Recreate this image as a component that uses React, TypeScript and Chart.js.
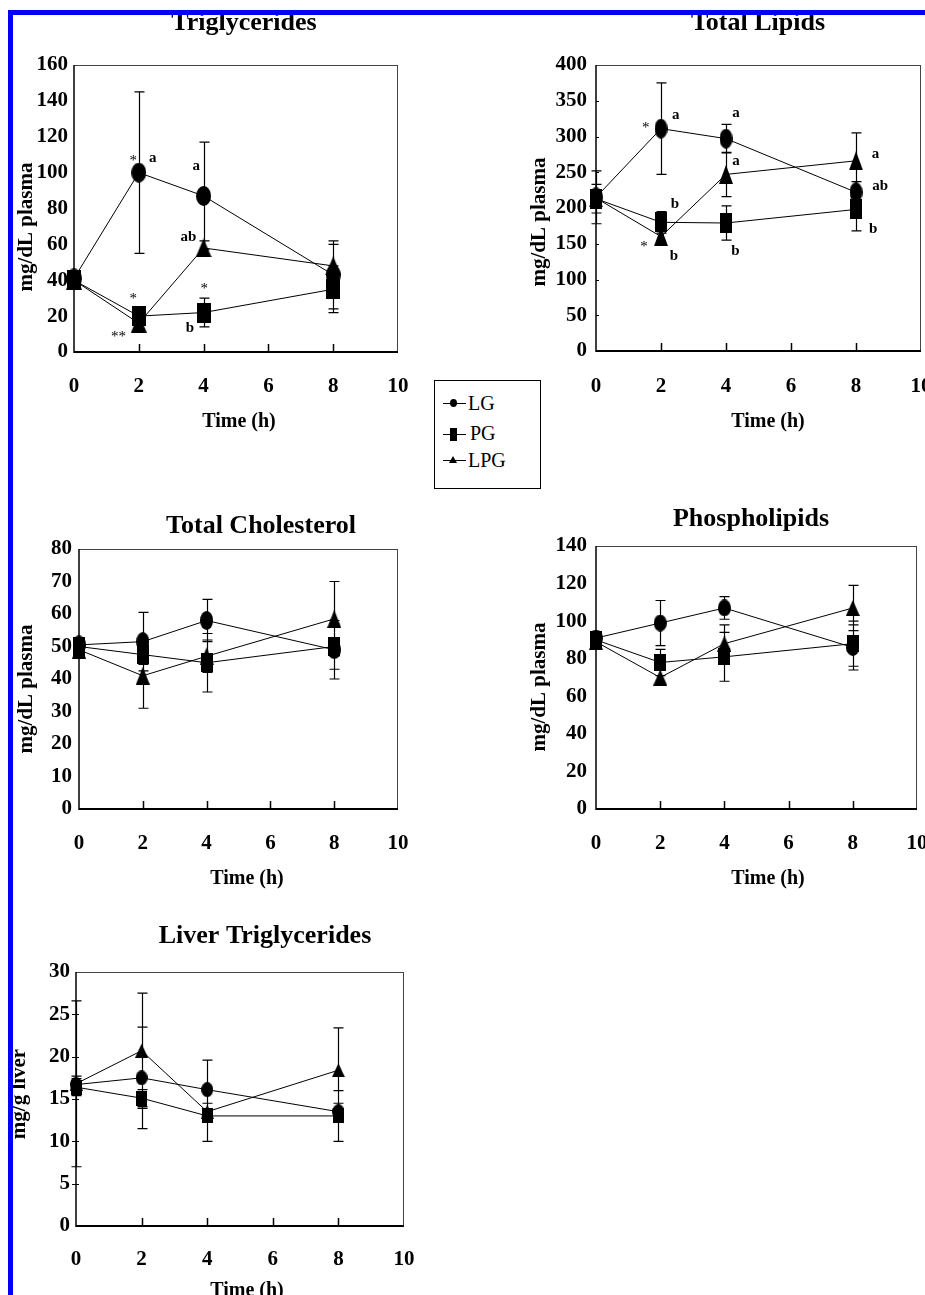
import React, { useEffect, useRef } from 'react';
import { Chart, registerables } from 'chart.js';

Chart.register(...registerables);

const FONT = '"Liberation Serif", "Times New Roman", Times, serif';

// ---------------- data ----------------
const times = [0, 2, 4, 8];
const seriesNames = ['LG', 'PG', 'LPG'];
const xMax = 10;
const xStep = 2;
const xTitleText = 'Time (h)';

// Triglycerides (mg/dL plasma)
const tgLG = [41, 100, 87, 43];
const tgPG = [40, 20, 22, 35];
const tgLPG = [40, 16, 58, 48];
const tgLGErr = [3, 45, 30, 19];
const tgPGErr = [2, 3, 8, 13];
const tgLPGErr = [2, 3, 4, 12];
const tgMarks = [
  { text: '*', t: 1.83, v: 108.9 },
  { text: 'a', t: 2.43, v: 108 },
  { text: 'a', t: 3.77, v: 103.9 },
  { text: 'ab', t: 3.53, v: 64.3 },
  { text: '*', t: 1.83, v: 31.8 },
  { text: '**', t: 1.37, v: 10.4 },
  { text: '*', t: 4.02, v: 37.4 },
  { text: 'b', t: 3.58, v: 13.2 },
];

// Total Lipids (mg/dL plasma)
const tlLG = [215, 311, 297, 222];
const tlPG = [213, 180, 179, 198];
const tlLPG = [214, 160, 247, 266];
const tlLGErr = [37, 64, 20, 15];
const tlPGErr = [20, 15, 24, 30];
const tlLPGErr = [10, 12, 31, 39];
const tlMarks = [
  { text: '*', t: 1.53, v: 317 },
  { text: 'a', t: 2.45, v: 330 },
  { text: 'a', t: 4.31, v: 332 },
  { text: 'a', t: 4.31, v: 266 },
  { text: 'a', t: 8.6, v: 275.5 },
  { text: 'ab', t: 8.74, v: 231 },
  { text: 'b', t: 2.43, v: 205 },
  { text: '*', t: 1.48, v: 151.5 },
  { text: 'b', t: 2.4, v: 132 },
  { text: 'b', t: 4.29, v: 140 },
  { text: 'b', t: 8.53, v: 170.6 },
];

// Total Cholesterol (mg/dL plasma)
const tcLG = [50.5, 51.5, 58, 49];
const tcPG = [50, 47.5, 45, 50];
const tcLPG = [49, 41, 47, 58.5];
const tcLGErr = [2, 9, 6.5, 9];
const tcPGErr = [2, 3, 9, 7];
const tcLPGErr = [2, 10, 5, 11.5];

// Phospholipids (mg/dL plasma)
const plLG = [91, 99, 107, 86];
const plPG = [90, 78, 81, 88];
const plLPG = [89, 70, 88, 107];
const plLGErr = [3, 12, 6, 12];
const plPGErr = [3, 7, 13, 12];
const plLPGErr = [3, 4, 10, 12];

// Liver Triglycerides (mg/g liver)
const ltLG = [16.7, 17.5, 16.1, 13.5];
const ltPG = [16.4, 15.1, 13, 13];
const ltLPG = [16.8, 20.7, 13.5, 18.4];
const ltLGErr = [1, 6, 3.5, 1];
const ltPGErr = [1, 1, 3, 3];
const ltLPGErr = [9.8, 6.8, 1, 5];

type Mark = { text: string; t: number; v: number };
type Panel = {
  id: string;
  title: string;
  yTitle: string;
  yMax: number;
  yStep: number;
  values: number[][];
  errors: number[][];
  marks: Mark[];
};

const panels: Panel[] = [
  { id: 'tg', title: 'Triglycerides', yTitle: 'mg/dL plasma', yMax: 160, yStep: 20, values: [tgLG, tgPG, tgLPG], errors: [tgLGErr, tgPGErr, tgLPGErr], marks: tgMarks },
  { id: 'tl', title: 'Total Lipids', yTitle: 'mg/dL plasma', yMax: 400, yStep: 50, values: [tlLG, tlPG, tlLPG], errors: [tlLGErr, tlPGErr, tlLPGErr], marks: tlMarks },
  { id: 'tc', title: 'Total Cholesterol', yTitle: 'mg/dL plasma', yMax: 80, yStep: 10, values: [tcLG, tcPG, tcLPG], errors: [tcLGErr, tcPGErr, tcLPGErr], marks: [] },
  { id: 'pl', title: 'Phospholipids', yTitle: 'mg/dL plasma', yMax: 140, yStep: 20, values: [plLG, plPG, plLPG], errors: [plLGErr, plPGErr, plLPGErr], marks: [] },
  { id: 'lt', title: 'Liver Triglycerides', yTitle: 'mg/g liver', yMax: 30, yStep: 5, values: [ltLG, ltPG, ltLPG], errors: [ltLGErr, ltPGErr, ltLPGErr], marks: [] },
];

// ---------------- layout (page pixels) ----------------
type Lay = {
  box: number[]; // canvas left, top, width, height
  plot: number[]; // plot left, top, right, bottom
  yPad: number;
  xPad: number;
  title: number[]; // center x, baseline y
  yTitle: number[]; // center x, center y
  xTitle: number[]; // center x, center y
  marker: number[]; // w, h
  yTickIn: number;
  yTickOut: number;
};

const RIGHT_ROOM = 40;

const layouts: Record<string, Lay> = {
  tg: { box: [0, 0, 398 + RIGHT_ROOM, 440], plot: [74, 65, 398, 352], yPad: 6, xPad: 22, title: [244, 30], yTitle: [27, 227], xTitle: [239, 422], marker: [15, 20], yTickIn: 0, yTickOut: 0 },
  tl: { box: [500, 0, 921 + RIGHT_ROOM - 500, 440], plot: [596, 65, 921, 351], yPad: 9, xPad: 23, title: [758, 30], yTitle: [540, 222], xTitle: [768, 422], marker: [13, 20], yTickIn: 3, yTickOut: 0 },
  tc: { box: [0, 490, 398 + RIGHT_ROOM, 410], plot: [79, 549, 398, 809], yPad: 7, xPad: 22, title: [261, 533], yTitle: [27, 689], xTitle: [247, 879], marker: [13, 19], yTickIn: 0, yTickOut: 0 },
  pl: { box: [500, 490, 917 + RIGHT_ROOM - 500, 410], plot: [596, 546, 917, 809], yPad: 9, xPad: 22, title: [751, 526], yTitle: [540, 687], xTitle: [768, 879], marker: [13, 17], yTickIn: 0, yTickOut: 0 },
  lt: { box: [0, 905, 404 + RIGHT_ROOM, 405], plot: [76, 972, 404, 1226], yPad: 6, xPad: 21, title: [265, 943], yTitle: [20, 1094], xTitle: [247, 1291], marker: [12, 15], yTickIn: 3, yTickOut: 4 },
};

function makeMarker(shape: string, w: number, h: number) {
  const c = document.createElement('canvas');
  c.width = w;
  c.height = h;
  const g = c.getContext('2d')!;
  g.fillStyle = '#000';
  g.beginPath();
  if (shape === 'circle') {
    g.ellipse(w / 2, h / 2, w / 2, h / 2, 0, 0, Math.PI * 2);
  } else if (shape === 'rect') {
    g.rect(0, 0, w, h);
  } else {
    g.moveTo(w / 2, 0);
    g.lineTo(w, h);
    g.lineTo(0, h);
    g.closePath();
  }
  g.fill();
  return c;
}

function ChartPanel({ panel, lay }: { panel: Panel; lay: Lay }) {
  const ref = useRef<HTMLCanvasElement>(null);
  const [L, T, W, H] = lay.box;

  useEffect(() => {
    const canvas = ref.current!;
    const [pl, pt, pr, pb] = lay.plot;
    const [mw, mh] = lay.marker;
    const styles = [
      makeMarker('circle', mw, mh),
      makeMarker('rect', mw - 1, mh),
      makeMarker('triangle', mw + 1, mh - 1),
    ];
    const datasets = seriesNames.map((name, si) => ({
      label: name,
      data: times.map((t, i) => ({ x: t, y: panel.values[si][i] })),
      borderColor: '#000',
      backgroundColor: '#000',
      borderWidth: 1,
      pointStyle: styles[si],
      pointRadius: 8,
      tension: 0,
      clip: false as const,
    }));
    const tickFont = { family: FONT, size: 21, weight: 'bold' as const };

    const decor = {
      id: 'decor_' + panel.id,
      beforeDatasetsDraw(chart: any) {
        const { ctx, chartArea: a, scales } = chart;
        const xs = scales.x;
        const ys = scales.y;
        ctx.save();
        // frame
        ctx.strokeStyle = '#444';
        ctx.lineWidth = 1;
        ctx.beginPath();
        ctx.moveTo(a.left, a.top + 0.5);
        ctx.lineTo(a.right, a.top + 0.5);
        ctx.moveTo(a.right - 0.5, a.top);
        ctx.lineTo(a.right - 0.5, a.bottom);
        ctx.stroke();
        ctx.strokeStyle = '#000';
        ctx.lineWidth = 1.5;
        ctx.beginPath();
        ctx.moveTo(a.left, a.top);
        ctx.lineTo(a.left, a.bottom + 1);
        ctx.stroke();
        ctx.lineWidth = 2;
        ctx.beginPath();
        ctx.moveTo(a.left, a.bottom);
        ctx.lineTo(a.right, a.bottom);
        ctx.stroke();
        // inward x ticks
        ctx.lineWidth = 1.5;
        ctx.beginPath();
        xs.ticks.forEach((tk: any) => {
          if (tk.value <= xs.min || tk.value >= xs.max) return;
          const px = Math.round(xs.getPixelForValue(tk.value)) + 0.5;
          ctx.moveTo(px, a.bottom);
          ctx.lineTo(px, a.bottom - 8);
        });
        ctx.stroke();
        // y ticks
        if (lay.yTickIn || lay.yTickOut) {
          ctx.lineWidth = 1;
          ctx.beginPath();
          ys.ticks.forEach((tk: any) => {
            if (tk.value <= ys.min || tk.value >= ys.max) return;
            const py = Math.round(ys.getPixelForValue(tk.value)) + 0.5;
            ctx.moveTo(a.left - lay.yTickOut, py);
            ctx.lineTo(a.left + lay.yTickIn, py);
          });
          ctx.stroke();
        }
        // error bars
        ctx.lineWidth = 1.2;
        ctx.beginPath();
        panel.values.forEach((vals, si) => {
          vals.forEach((v, i) => {
            const e = panel.errors[si][i];
            if (!e) return;
            const px = Math.round(xs.getPixelForValue(times[i])) + 0.5;
            const top = ys.getPixelForValue(v + e);
            const bot = ys.getPixelForValue(v - e);
            ctx.moveTo(px, top);
            ctx.lineTo(px, bot);
            ctx.moveTo(px - 5, top);
            ctx.lineTo(px + 5, top);
            ctx.moveTo(px - 5, bot);
            ctx.lineTo(px + 5, bot);
          });
        });
        ctx.stroke();
        ctx.restore();
      },
      afterDraw(chart: any) {
        const { ctx, scales } = chart;
        const xs = scales.x;
        const ys = scales.y;
        ctx.save();
        ctx.fillStyle = '#000';
        ctx.textAlign = 'center';
        // panel title
        ctx.font = `bold 26px ${FONT}`;
        ctx.textBaseline = 'alphabetic';
        ctx.fillText(panel.title, lay.title[0] - L, lay.title[1] - T);
        // x title
        ctx.font = `bold 20px ${FONT}`;
        ctx.textBaseline = 'middle';
        ctx.fillText(xTitleText, lay.xTitle[0] - L, lay.xTitle[1] - T);
        // y title
        ctx.save();
        ctx.translate(lay.yTitle[0] - L, lay.yTitle[1] - T);
        ctx.rotate(-Math.PI / 2);
        ctx.font = `bold 21px ${FONT}`;
        ctx.fillText(panel.yTitle, 0, 0);
        ctx.restore();
        // significance marks
        panel.marks.forEach((m) => {
          const star = m.text.indexOf('*') >= 0;
          ctx.font = star ? `15px ${FONT}` : `bold 15px ${FONT}`;
          ctx.fillText(m.text, xs.getPixelForValue(m.t), ys.getPixelForValue(m.v) + (star ? 4 : 0));
        });
        ctx.restore();
      },
    };

    const chart = new Chart(canvas, {
      type: 'line',
      data: { datasets },
      options: {
        animation: false,
        responsive: false,
        devicePixelRatio: 1,
        events: [],
        layout: { padding: { left: 0, top: pt - T, right: L + W - pr, bottom: 0 } },
        plugins: {
          legend: { display: false },
          tooltip: { enabled: false },
          title: { display: false },
        },
        scales: {
          x: {
            type: 'linear',
            min: 0,
            max: xMax,
            ticks: { stepSize: xStep, color: '#000', font: tickFont, padding: lay.xPad, maxRotation: 0, autoSkip: false },
            grid: { display: false, drawTicks: false },
            border: { display: false },
            afterFit: (s: any) => {
              s.height = T + H - pb;
            },
          },
          y: {
            type: 'linear',
            min: 0,
            max: panel.yMax,
            ticks: { stepSize: panel.yStep, color: '#000', font: tickFont, padding: lay.yPad },
            grid: { display: false, drawTicks: false },
            border: { display: false },
            afterFit: (s: any) => {
              s.width = pl - L;
            },
          },
        },
      } as any,
      plugins: [decor],
    });
    return () => chart.destroy();
  }, []);

  return <canvas ref={ref} width={W} height={H} style={{ position: 'absolute', left: L, top: T, width: W, height: H }} />;
}

function Legend() {
  const txt: React.CSSProperties = { position: 'absolute', left: 33, fontSize: 20, lineHeight: '20px', whiteSpace: 'nowrap' };
  const line = (top: number): React.CSSProperties => ({ position: 'absolute', left: 8, top, width: 23, height: 1, background: '#000' });
  return (
    <div
      style={{
        position: 'absolute',
        left: 434,
        top: 380,
        width: 107,
        height: 109,
        boxSizing: 'border-box',
        border: '1px solid #000',
        background: '#fff',
        fontFamily: FONT,
        color: '#000',
        zIndex: 2,
      }}
    >
      <div style={line(22)} />
      <div style={{ position: 'absolute', left: 15, top: 18, width: 7, height: 8, borderRadius: '50%', background: '#000' }} />
      <span style={{ ...txt, top: 12 }}>LG</span>
      <div style={line(53)} />
      <div style={{ position: 'absolute', left: 15, top: 47, width: 7, height: 13, background: '#000' }} />
      <span style={{ ...txt, left: 35, top: 42 }}>PG</span>
      <div style={line(79)} />
      <div
        style={{
          position: 'absolute',
          left: 14,
          top: 75,
          width: 0,
          height: 0,
          borderLeft: '4.5px solid transparent',
          borderRight: '4.5px solid transparent',
          borderBottom: '7px solid #000',
        }}
      />
      <span style={{ ...txt, top: 69 }}>LPG</span>
    </div>
  );
}

export default function App() {
  return (
    <div style={{ position: 'absolute', left: 0, top: 0, width: 925, height: 1295, overflow: 'hidden', background: '#fff' }}>
      {panels.map((p) => (
        <ChartPanel key={p.id} panel={p} lay={layouts[p.id]} />
      ))}
      <Legend />
      <div style={{ position: 'absolute', left: 8, top: 10, width: 917, height: 5, background: '#0000f5', zIndex: 3 }} />
      <div style={{ position: 'absolute', left: 8, top: 10, width: 5, height: 1285, background: '#0000f5', zIndex: 3 }} />
    </div>
  );
}
